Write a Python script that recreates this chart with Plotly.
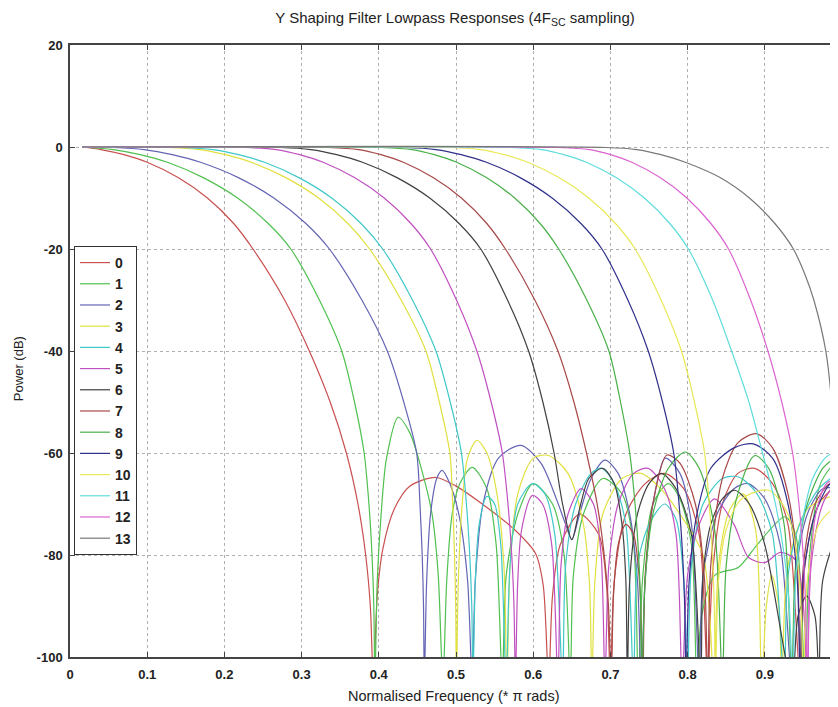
import plotly.graph_objects as go

# ---- data (normalised frequency, power dB) ----
series_names = [str(i) for i in range(14)]
series_colors = ["#c85050", "#50c050", "#6464b4", "#e0e040", "#40c8c8", "#c050c0", "#404040",
                 "#a84848", "#48b048", "#30308c", "#e8e858", "#60dcdc", "#dc64d0", "#787878"]

resp_0 = [(0.016,0),(0.04,-0.5),(0.07,-1.5),(0.100,-3),(0.140,-6),(0.178,-10),(0.212,-15),(0.237,-20),
          (0.278,-30),(0.310,-40),(0.337,-50),(0.358,-60),(0.373,-70),(0.383,-80),(0.389,-90),(0.393,-105),
          (0.398,-88),(0.405,-79),(0.42,-71),(0.44,-66.5),(0.474,-64.8),(0.50,-66.5),(0.534,-70),(0.577,-75.2),
          (0.603,-79.7),(0.613,-86),(0.62,-105),
          (0.625,-88),(0.635,-78),(0.66,-72),(0.685,-76),(0.695,-86),(0.70,-105),
          (0.705,-85),(0.72,-72),(0.745,-66),(0.77,-64),(0.795,-67),(0.815,-76),(0.826,-105),
          (0.832,-84),(0.845,-70),(0.865,-64),(0.887,-63),(0.91,-66),(0.93,-74),(0.946,-105),
          (0.952,-82),(0.97,-70),(0.995,-66)]
resp_1 = [(0.016,0),(0.056,-0.5),(0.091,-1.5),(0.126,-3),(0.1726,-6),(0.217,-10),(0.2568,-15),(0.286,-20),
          (0.323,-30),(0.352,-40),(0.3685,-50),(0.381,-60),(0.3872,-70),(0.3912,-80),(0.3935,-90),(0.395,-105),
          (0.398,-85),(0.403,-72),(0.41,-61),(0.425,-53),(0.44,-56),(0.455,-63),(0.469,-72),(0.477,-84),(0.483,-105),
          (0.488,-85),(0.495,-72),(0.505,-66),(0.521,-62.8),(0.54,-67),(0.552,-78),(0.56,-105),
          (0.565,-84),(0.58,-72),(0.60,-66),(0.625,-70),(0.64,-80),(0.648,-105),
          (0.652,-84),(0.665,-72),(0.69,-65),(0.715,-68),(0.73,-78),(0.736,-105),
          (0.742,-84),(0.755,-70),(0.775,-66),(0.79,-69),(0.805,-78),(0.812,-105),
          (0.818,-92),(0.835,-84),(0.866,-82.4),(0.89,-78),(0.926,-72.5),(0.94,-76),(0.952,-105),
          (0.958,-80),(0.972,-66),(0.995,-61)]
resp_2 = [(0.016,0),(0.056,-0.1),(0.096,-0.5),(0.1325,-1.5),(0.169,-3),(0.218,-6),(0.264,-10),(0.3055,-15),
          (0.336,-20),(0.378,-30),(0.411,-40),(0.4323,-50),(0.449,-60),(0.4533,-70),(0.4562,-80),(0.4579,-90),(0.459,-105),
          (0.462,-85),(0.467,-72),(0.475,-65),(0.482,-63.4),(0.492,-66),(0.505,-73),(0.515,-85),(0.521,-105),
          (0.525,-85),(0.535,-70),(0.555,-61),(0.584,-58.5),(0.61,-62),(0.63,-69),(0.642,-74),(0.65,-77),
          (0.66,-72),(0.675,-65),(0.693,-61.4),(0.71,-64),(0.725,-72),(0.735,-85),(0.74,-105),
          (0.745,-85),(0.755,-70),(0.771,-61),(0.79,-64),(0.805,-74),(0.815,-105),
          (0.82,-84),(0.838,-72),(0.86,-67),(0.878,-66),(0.9,-69),(0.92,-78),(0.935,-105),
          (0.94,-84),(0.955,-72),(0.975,-67),(0.995,-67)]
resp_3 = [(0.016,0),(0.128,-0.1),(0.168,-0.5),(0.2014,-1.5),(0.2349,-3),(0.2795,-6),(0.322,-10),(0.36,-15),
          (0.388,-20),(0.4289,-30),(0.461,-40),(0.4784,-50),(0.492,-60),(0.4957,-70),(0.4981,-80),(0.4996,-90),(0.5005,-105),
          (0.503,-85),(0.508,-70),(0.515,-61),(0.527,-57.5),(0.54,-60),(0.553,-68),(0.562,-82),(0.566,-105),
          (0.57,-82),(0.58,-68),(0.60,-61),(0.62,-60.5),(0.645,-64),(0.665,-74),(0.673,-86),(0.676,-105),
          (0.68,-85),(0.69,-72),(0.715,-65),(0.74,-64),(0.765,-67),(0.79,-72),(0.82,-80),(0.834,-105),
          (0.84,-82),(0.855,-71),(0.872,-68),(0.888,-75),(0.896,-105),
          (0.902,-90),(0.909,-84),(0.918,-90),(0.922,-105),
          (0.93,-82),(0.955,-71),(0.995,-68)]
resp_4 = [(0.016,0),(0.145,-0.1),(0.185,-0.5),(0.2184,-1.5),(0.2519,-3),(0.2965,-6),(0.339,-10),(0.377,-15),
          (0.405,-20),(0.4436,-30),(0.474,-40),(0.4925,-50),(0.507,-60),(0.5135,-70),(0.5178,-80),(0.5204,-90),(0.522,-105),
          (0.525,-85),(0.53,-74),(0.54,-68.5),(0.55,-70),(0.558,-78),(0.565,-105),
          (0.57,-82),(0.58,-70),(0.599,-66),(0.615,-68),(0.628,-76),(0.638,-105),
          (0.642,-82),(0.655,-70),(0.675,-64),(0.689,-63),(0.705,-66),(0.72,-74),(0.73,-105),
          (0.735,-82),(0.75,-74),(0.77,-70),(0.785,-73),(0.795,-85),(0.8,-105),
          (0.805,-82),(0.82,-70),(0.845,-65),(0.866,-64.7),(0.89,-68),(0.91,-76),(0.925,-105),
          (0.93,-84),(0.945,-74),(0.97,-67),(0.995,-64)]
resp_5 = [(0.016,0),(0.227,-0.1),(0.267,-0.5),(0.2974,-1.5),(0.3278,-3),(0.3684,-6),(0.407,-10),(0.4416,-15),
          (0.467,-20),(0.5006,-30),(0.527,-40),(0.5455,-50),(0.560,-60),(0.5673,-70),(0.5722,-80),(0.5751,-90),(0.577,-105),
          (0.58,-85),(0.585,-75),(0.599,-68.3),(0.612,-70),(0.624,-78),(0.632,-105),
          (0.636,-82),(0.645,-72),(0.662,-67),(0.678,-70),(0.688,-80),(0.693,-105),
          (0.698,-82),(0.71,-70),(0.73,-64),(0.749,-63),(0.77,-67),(0.785,-76),(0.793,-105),
          (0.80,-84),(0.815,-74),(0.835,-69),(0.86,-74),(0.879,-80.5),(0.90,-81.5),(0.92,-79.5),
          (0.94,-81),(0.95,-90),(0.955,-105),
          (0.96,-82),(0.975,-70),(0.995,-65)]
resp_6 = [(0.016,0),(0.272,-0.1),(0.312,-0.5),(0.3454,-1.5),(0.3789,-3),(0.4235,-6),(0.466,-10),(0.504,-15),
          (0.532,-20),(0.5667,-30),(0.594,-40),(0.6125,-50),(0.627,-60),(0.638,-70),(0.65,-77),(0.66,-71),
          (0.672,-65),(0.69,-63),(0.705,-66),(0.715,-74),(0.72,-85),(0.722,-105),
          (0.725,-85),(0.735,-72),(0.75,-66),(0.766,-64),(0.785,-67),(0.805,-76),(0.817,-105),
          (0.82,-84),(0.83,-74),(0.845,-69),(0.861,-67.3),(0.88,-70),(0.9,-78),(0.935,-105),
          (0.943,-92),(0.954,-88),(0.965,-92),(0.97,-105),
          (0.975,-85),(0.995,-75)]
resp_7 = [(0.016,0),(0.334,-0.1),(0.374,-0.5),(0.4029,-1.5),(0.4318,-3),(0.4703,-6),(0.507,-10),(0.5399,-15),
          (0.564,-20),(0.6021,-30),(0.632,-40),(0.6527,-50),(0.669,-60),(0.6828,-70),(0.692,-80),(0.6975,-90),(0.701,-105),
          (0.704,-88),(0.71,-78),(0.72,-74),(0.73,-76),(0.738,-86),(0.742,-105),
          (0.745,-84),(0.755,-70),(0.773,-60.4),(0.79,-62),(0.81,-70),(0.822,-85),(0.826,-105),
          (0.83,-82),(0.845,-65),(0.865,-58),(0.889,-56.2),(0.91,-59),(0.93,-68),(0.942,-82),(0.946,-105),
          (0.95,-82),(0.965,-70),(0.985,-66),(0.995,-67)]
resp_8 = [(0.016,0),(0.403,-0.1),(0.443,-0.5),(0.4719,-1.5),(0.5008,-3),(0.5393,-6),(0.576,-10),(0.6089,-15),
          (0.633,-20),(0.6694,-30),(0.698,-40),(0.7131,-50),(0.725,-60),(0.7319,-70),(0.7365,-80),(0.7392,-90),(0.741,-105),
          (0.745,-85),(0.755,-72),(0.775,-63),(0.797,-59.8),(0.815,-63),(0.835,-75),(0.845,-105),
          (0.85,-82),(0.865,-68),(0.887,-60.5),(0.905,-63),(0.925,-74),(0.935,-105),
          (0.94,-82),(0.955,-70),(0.975,-63),(0.995,-60.5)]
resp_9 = [(0.016,0),(0.434,-0.1),(0.474,-0.5),(0.5067,-1.5),(0.5394,-3),(0.583,-6),(0.6245,-10),(0.6618,-15),
          (0.689,-20),(0.7226,-30),(0.749,-40),(0.7675,-50),(0.782,-60),(0.7889,-70),(0.7935,-80),(0.7962,-90),(0.798,-105),
          (0.802,-85),(0.812,-72),(0.83,-63),(0.86,-59),(0.885,-58.2),(0.91,-61),(0.93,-70),(0.942,-85),(0.946,-105),
          (0.95,-84),(0.965,-72),(0.985,-66),(0.995,-66)]
resp_10 = [(0.016,0),(0.492,-0.1),(0.532,-0.5),(0.5624,-1.5),(0.5928,-3),(0.6334,-6),(0.672,-10),(0.7066,-15),
           (0.732,-20),(0.7656,-30),(0.792,-40),(0.8088,-50),(0.822,-60),(0.828,-70),(0.8321,-80),(0.8345,-90),(0.836,-105),
           (0.84,-85),(0.85,-75),(0.87,-69),(0.905,-67.3),(0.93,-72),(0.945,-85),(0.95,-105),
           (0.955,-85),(0.97,-74),(0.995,-70)]
resp_11 = [(0.016,0),(0.571,-0.1),(0.611,-0.5),(0.6399,-1.5),(0.6688,-3),(0.7073,-6),(0.744,-10),(0.7769,-15),
           (0.801,-20),(0.8324,-30),(0.857,-40),(0.8794,-50),(0.897,-60),(0.9138,-70),(0.9251,-80),(0.9317,-90),(0.936,-105),
           (0.94,-85),(0.948,-74),(0.962,-65),(0.978,-61),(0.99,-59.8)]
resp_12 = [(0.016,0),(0.633,-0.1),(0.673,-0.5),(0.7004,-1.5),(0.7277,-3),(0.7643,-6),(0.799,-10),(0.8301,-15),
           (0.853,-20),(0.8816,-30),(0.904,-40),(0.9219,-50),(0.936,-60),(0.9442,-70),(0.9497,-80),(0.9529,-90),(0.955,-105),
           (0.958,-85),(0.966,-72),(0.98,-66),(0.995,-65)]
resp_13 = [(0.016,0),(0.694,-0.1),(0.734,-0.5),(0.7655,-1.5),(0.797,-3),(0.842,-6),(0.880,-10),(0.913,-15),
           (0.937,-20),(0.952,-25),(0.9635,-30),(0.979,-40),(0.9865,-50),(0.9905,-60),(0.9935,-70),(0.9955,-80)]

responses = [resp_0, resp_1, resp_2, resp_3, resp_4, resp_5, resp_6,
             resp_7, resp_8, resp_9, resp_10, resp_11, resp_12, resp_13]

x_tick_vals = [0, 0.1, 0.2, 0.3, 0.4, 0.5, 0.6, 0.7, 0.8, 0.9, 1.0]
x_tick_text = ["0", "0.1", "0.2", "0.3", "0.4", "0.5", "0.6", "0.7", "0.8", "0.9", "1"]
y_tick_vals = [20, 0, -20, -40, -60, -80, -100]
y_tick_text = ["20", "0", "-20", "-40", "-60", "-80", "-100"]

fig = go.Figure()
for name, color, resp in zip(series_names, series_colors, responses):
    fig.add_trace(go.Scatter(
        x=[p[0] for p in resp], y=[p[1] for p in resp], name=name, mode="lines",
        line=dict(color=color, width=1.2, shape="spline", smoothing=0.8),
    ))

FONT = "Liberation Sans, Arial, sans-serif"
axis_common = dict(showline=True, linecolor="#444444", linewidth=1.5, mirror="ticks",
                   ticks="inside", ticklen=5, tickcolor="#444444", showgrid=True,
                   gridcolor="#b0b0b0", griddash="dot", gridwidth=1, zeroline=False,
                   tickfont=dict(family=FONT, size=13, color="#222222", weight="bold"))

# page body has an 8px margin, so the figure is sized to fit the window
fig.update_layout(
    width=830, height=699,
    margin=dict(l=62, r=0, t=37, b=50),
    paper_bgcolor="white", plot_bgcolor="white",
    font=dict(family=FONT, color="#222222"),
    title=dict(text="Y Shaping Filter Lowpass Responses (4F<sub>SC</sub> sampling)",
               x=0.5026, xref="paper", xanchor="center", y=1 - 10 / 699, yanchor="middle",
               font=dict(size=15, color="#222222")),
    xaxis=dict(range=[0, 0.9922], tickvals=x_tick_vals, ticktext=x_tick_text,
               ticklabelstandoff=5, **axis_common),
    yaxis=dict(range=[-100, 20], tickvals=y_tick_vals, ticktext=y_tick_text,
               ticklabelstandoff=3, **axis_common),
    showlegend=True,
    legend=dict(x=0.0052, y=0.6716, xanchor="left", yanchor="top", bgcolor="white",
                bordercolor="#333333", borderwidth=1,
                font=dict(size=14, color="#222222", weight="bold"),
                tracegroupgap=0),
    annotations=[
        dict(text="Normalised Frequency (* \u03c0 rads)", xref="paper", yref="paper",
             x=(455 - 70) / 768, y=(657 - 696) / 612, xanchor="center", yanchor="middle",
             showarrow=False, font=dict(size=14.5, color="#222222")),
        dict(text="Power (dB)", xref="paper", yref="paper", textangle=-90,
             x=(18 - 70) / 768, y=(657 - 369) / 612, xanchor="center", yanchor="middle",
             showarrow=False, font=dict(size=13, color="#222222")),
    ],
)

fig.write_html("out.html")
